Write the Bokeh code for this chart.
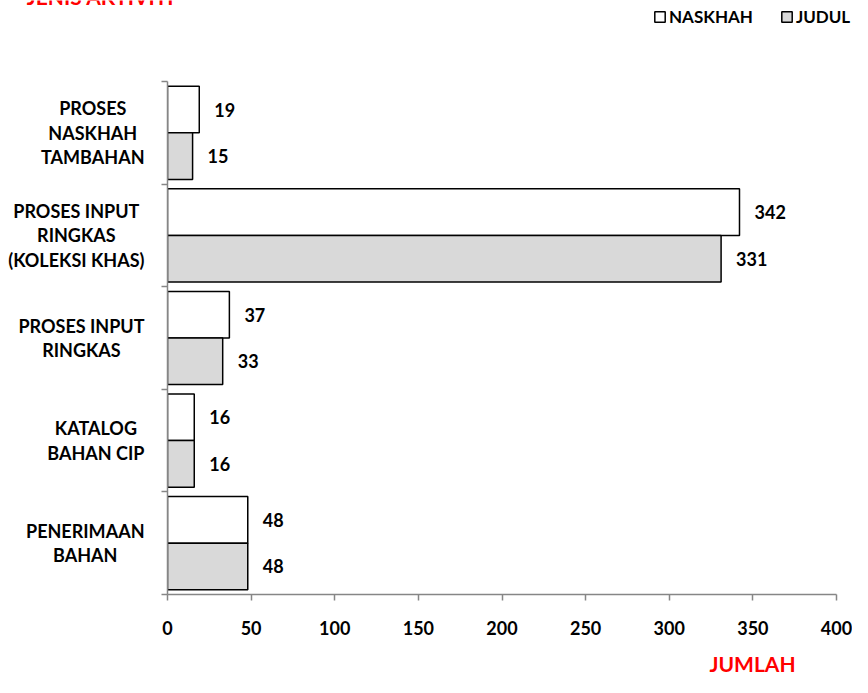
from bokeh.plotting import figure
from bokeh.layouts import column, row
from bokeh.models import (ColumnDataSource, Range1d, FixedTicker, Legend,
                          LegendItem)
from bokeh.core.properties import value
from bokeh.embed import file_html
from bokeh.resources import INLINE

# ---------------- data ----------------
categories = [
    "PROSES\nNASKHAH\nTAMBAHAN",
    "PROSES INPUT\nRINGKAS\n(KOLEKSI KHAS)",
    "PROSES INPUT\nRINGKAS",
    "KATALOG\nBAHAN CIP",
    "PENERIMAAN\nBAHAN",
]
naskhah = [19, 342, 37, 16, 48]
judul = [15, 331, 33, 16, 48]
series_names = ["NASKHAH", "JUDUL"]
x_ticks = [0, 50, 100, 150, 200, 250, 300, 350, 400]
y_title = "JENIS AKTIVITI"
x_title = "JUMLAH"

# ---------------- layout constants ----------------
W = 852
TOP_H = 78
LEFT_W = 150
MAIN_H = 572
MB_TOP, MB_BOT, MB_LEFT, MB_RIGHT = 3, 56, 17, 16
BOT_H = 27
XMAX = 400
NCAT = len(categories)
FONT = "Lato"
BAR_H = 0.454
OFF = BAR_H / 2
BLACK = "black"
AX = "#868686"


def bare(fig):
    fig.outline_line_color = None
    fig.background_fill_color = "white"
    fig.border_fill_color = "white"
    fig.xgrid.visible = False
    fig.ygrid.visible = False
    return fig


centers = [NCAT - i - 0.5 for i in range(NCAT)]
y_rng = Range1d(0, NCAT)

# ---------------- main chart ----------------
p = bare(figure(width=W - LEFT_W, height=MAIN_H, output_backend="svg",
                toolbar_location=None, x_range=Range1d(0, XMAX), y_range=y_rng,
                min_border_left=MB_LEFT, min_border_right=MB_RIGHT,
                min_border_top=MB_TOP, min_border_bottom=MB_BOT))

src_n = ColumnDataSource(dict(y=[c + OFF for c in centers], v=naskhah,
                              t=[str(v) for v in naskhah]))
src_j = ColumnDataSource(dict(y=[c - OFF for c in centers], v=judul,
                              t=[str(v) for v in judul]))

bar_n = dict(fill_color="white", line_color=BLACK, line_width=1.5)
bar_j = dict(fill_color="#d9d9d9", line_color=BLACK, line_width=1.5)
p.hbar(y="y", right="v", left=0, height=BAR_H, source=src_n, **bar_n)
p.hbar(y="y", right="v", left=0, height=BAR_H, source=src_j, **bar_j)

for s in (src_n, src_j):
    p.text(x="v", y="y", text="t", source=s, x_offset=15,
           text_align="left", text_baseline="middle",
           text_font=value(FONT), text_font_style="bold",
           text_font_size="18px", text_color=BLACK)

for ax in (p.xaxis[0], p.yaxis[0]):
    ax.axis_line_color = AX
    ax.axis_line_width = 1.5
    ax.major_tick_line_color = AX
    ax.major_tick_line_width = 1.5
    ax.major_tick_in = 0
    ax.major_tick_out = 6
    ax.minor_tick_line_color = None

p.xaxis.ticker = FixedTicker(ticks=x_ticks)
p.xaxis.major_label_text_font = FONT
p.xaxis.major_label_text_font_style = "bold"
p.xaxis.major_label_text_font_size = "18px"
p.xaxis.major_label_text_color = BLACK
p.xaxis.major_label_standoff = 20

p.yaxis.ticker = FixedTicker(ticks=list(range(NCAT + 1)))
p.yaxis.major_label_overrides = {i: "" for i in range(NCAT + 1)}
p.yaxis.major_label_standoff = 0

# ---------------- category labels (left) ----------------
pl = bare(figure(width=LEFT_W, height=MAIN_H, output_backend="svg",
                 toolbar_location=None, x_range=Range1d(0, LEFT_W),
                 y_range=y_rng, x_axis_type=None, y_axis_type=None,
                 min_border_left=0, min_border_right=0,
                 min_border_top=MB_TOP, min_border_bottom=MB_BOT))
src_c = ColumnDataSource(dict(y=centers, t=categories,
                              x=[LEFT_W - 6] * NCAT))
txt = dict(x="x", y="y", text="t", source=src_c, text_font=value(FONT),
           text_font_style="bold", text_font_size="18px", text_color=BLACK,
           text_baseline="middle", text_line_height=1.11)
try:
    pl.text(anchor="center_right", text_align="center", **txt)
except Exception:
    pl.text(text_align="right", **txt)

# ---------------- top: title + legend ----------------
pt = bare(figure(width=W, height=TOP_H, output_backend="svg",
                 toolbar_location=None, x_range=Range1d(0, W),
                 y_range=Range1d(TOP_H, 0), x_axis_type=None,
                 y_axis_type=None, min_border=0))
pt.text(x=[100], y=[-4], text=[y_title], text_font=value(FONT),
        text_font_style="bold", text_font_size="21px", text_color="red",
        text_align="center", text_baseline="alphabetic")
# legend proxies (hidden) carrying the series styles
dn = pt.hbar(y=[centers[0]], right=[naskhah[0]], left=0, height=BAR_H,
             visible=False, **bar_n)
dj = pt.hbar(y=[centers[0]], right=[judul[0]], left=0, height=BAR_H,
             visible=False, **bar_j)
legend = Legend(items=[LegendItem(label=series_names[0], renderers=[dn]),
                       LegendItem(label=series_names[1], renderers=[dj])],
                orientation="horizontal", location=(653, 51),
                glyph_width=13, glyph_height=13, label_standoff=3,
                spacing=27, padding=0, margin=0,
                border_line_color=None, background_fill_alpha=0,
                label_text_font=FONT, label_text_font_style="bold",
                label_text_font_size="17px", label_text_color=BLACK,
                label_height=13)
pt.add_layout(legend, "center")

# ---------------- bottom: x title ----------------
pb = bare(figure(width=W, height=BOT_H, output_backend="svg",
                 toolbar_location=None, x_range=Range1d(0, W),
                 y_range=Range1d(BOT_H, 0), x_axis_type=None,
                 y_axis_type=None, min_border=0))
pb.text(x=[752], y=[13], text=[x_title], text_font=value(FONT),
        text_font_style="bold", text_font_size="21px", text_color="red",
        text_align="center", text_baseline="middle")

layout = column(pt, row(pl, p, spacing=0), pb, spacing=0)
open("out.html", "w").write(file_html(layout, INLINE))
